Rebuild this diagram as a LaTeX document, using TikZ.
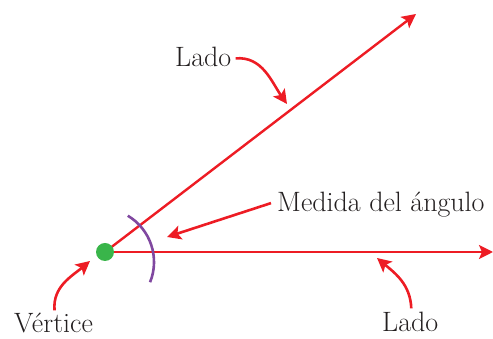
\documentclass[tikz,border=0pt]{standalone}
\usepackage{fontspec}
\usepackage{tikz}
\usetikzlibrary{arrows.meta}
\definecolor{rayred}{RGB}{237,28,36}
\definecolor{arcpurple}{RGB}{128,72,160}
\definecolor{dotgreen}{RGB}{57,181,74}
\definecolor{txtdark}{RGB}{35,31,32}
\tikzset{
  raystyle/.style={-{Stealth[length=14pt,width=14pt,inset=3pt]},line width=2.4pt,color=rayred},
  callarr/.style={-{Stealth[length=14pt,width=14pt,inset=3pt]},line width=2.6pt,color=rayred},
  labelnode/.style={inner sep=0pt,text=txtdark,font=\fontsize{28}{32}\selectfont},
  vertexdot/.style={circle,fill=dotgreen,minimum size=18pt,inner sep=0pt}
}

\begin{document}
\begin{tikzpicture}[x=1pt,y=1pt]
  \useasboundingbox (0,0) rectangle (493,339);
  % rays and angle mark
  \coordinate (endtop) at (416,325);
  \coordinate (endright) at (493,87);
  \coordinate (arccen) at (100,77);
  \draw[raystyle] (105,87) coordinate (vcen) -- (endright);
  \draw[raystyle] (vcen) -- (endtop);
  \draw[arcpurple,line width=2.6pt] (arccen)+(-22:54) arc[start angle=-22,end angle=59,radius=54];
  \node[vertexdot] (vert) at (vcen) {};
  % labels
  \node[labelnode,anchor=base west] (ladoup) at (175,272) {Lado};
  \node[labelnode,anchor=base west] (medida) at (277,127) {Medida del ángulo};
  \node[labelnode,anchor=base west] (vertice) at (14,6) {Vértice};
  \node[labelnode,anchor=base west] (ladodown) at (382,7) {Lado};
  \coordinate (tipup) at (287,235);
  \coordinate (tipang) at (167,102);
  \coordinate (tipvert) at (90,78);
  \coordinate (tipdown) at (377,81);
  \draw[callarr] ([xshift=4pt,yshift=-1pt]ladoup.east) to[out=5,in=125] (tipup);
  \draw[callarr] ([xshift=-6pt,yshift=2pt]medida.west) -- (tipang);
  \draw[callarr] ([xshift=1pt,yshift=3pt]vertice.north) to[out=95,in=220] (tipvert);
  \draw[callarr] ([xshift=1pt,yshift=4pt]ladodown.north) to[out=92,in=-40] (tipdown);
\end{tikzpicture}
\end{document}
